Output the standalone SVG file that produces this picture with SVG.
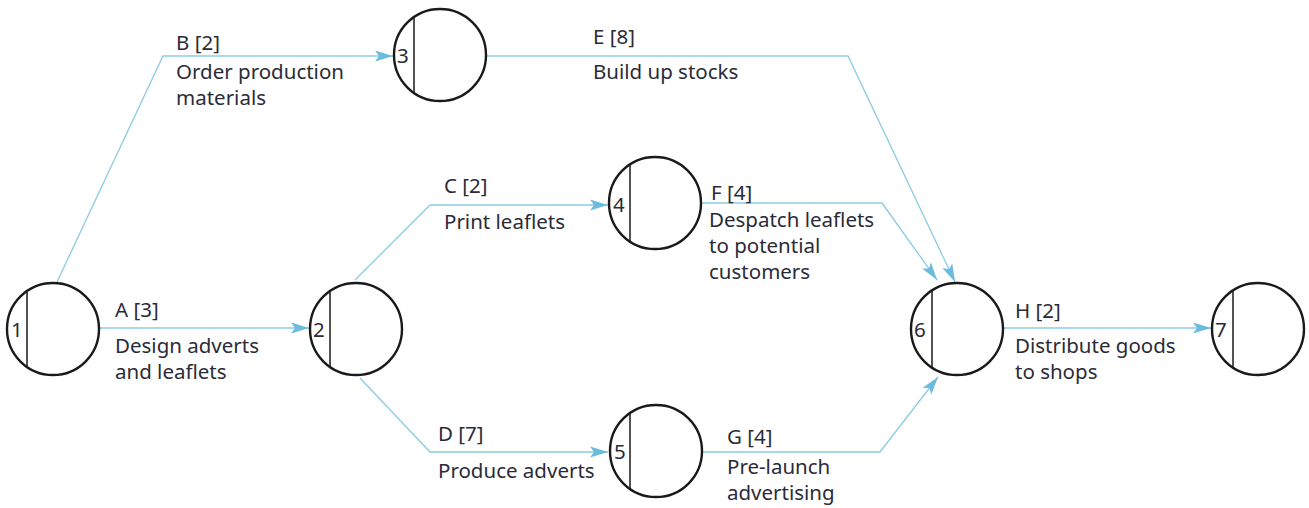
<svg xmlns="http://www.w3.org/2000/svg" width="1309" height="508" viewBox="0 0 1309 508">
<style>
.n{fill:#fff;stroke:#1a1a1a;stroke-width:2.4}
.d{stroke:#1a1a1a;stroke-width:1.5}
.c{fill:none;stroke:#8ccbe4;stroke-width:1.3}
text{font-family:"Noto Sans","Open Sans",sans-serif;font-size:20.5px;fill:#2b2b38}
</style>
<defs>
<marker id="ah" markerUnits="userSpaceOnUse" markerWidth="20" markerHeight="12" refX="18" refY="6" orient="auto">
<path d="M0,0.5 L18,6 L0,11.5 L4,6 Z" fill="#6bbcdc"/>
</marker>
</defs>
<rect width="1309" height="508" fill="#fff"/>
<g id="connectors">
<polyline class="c" points="57,282 163,56 393,56" marker-end="url(#ah)"/>
<polyline class="c" points="487,56 848,56 955,282" marker-end="url(#ah)"/>
<line class="c" x1="100" y1="328" x2="309" y2="328" marker-end="url(#ah)"/>
<polyline class="c" points="355,280 430,205 608,205" marker-end="url(#ah)"/>
<polyline class="c" points="702,203 882,203 937,280" marker-end="url(#ah)"/>
<polyline class="c" points="360,378 430,452 608,452" marker-end="url(#ah)"/>
<polyline class="c" points="703,452 880,452 938,377" marker-end="url(#ah)"/>
<line class="c" x1="1004" y1="328" x2="1211" y2="328" marker-end="url(#ah)"/>
</g>
<g id="labels">
<text x="176" y="50">B [2]</text>
<text x="176" y="79">Order production<tspan x="176" dy="26">materials</tspan></text>
<text x="593" y="44">E [8]</text>
<text x="593" y="79">Build up stocks</text>
<text x="115" y="317">A [3]</text>
<text x="115" y="353">Design adverts<tspan x="115" dy="26">and leaflets</tspan></text>
<text x="444" y="193">C [2]</text>
<text x="444" y="229">Print leaflets</text>
<text x="711" y="200">F [4]</text>
<text x="709" y="227">Despatch leaflets<tspan x="709" dy="26">to potential</tspan><tspan x="709" dy="26">customers</tspan></text>
<text x="438" y="441">D [7]</text>
<text x="438" y="478">Produce adverts</text>
<text x="727" y="444">G [4]</text>
<text x="727" y="474">Pre-launch<tspan x="727" dy="26">advertising</tspan></text>
<text x="1015" y="318">H [2]</text>
<text x="1015" y="353">Distribute goods<tspan x="1015" dy="26">to shops</tspan></text>
</g>
<g id="node1"><circle class="n" cx="53" cy="329" r="46"/><line class="d" x1="27" y1="291" x2="27" y2="367"/><text x="11" y="337">1</text></g>
<g id="node2"><circle class="n" cx="356" cy="329" r="46"/><line class="d" x1="330" y1="291" x2="330" y2="367"/><text x="313" y="337">2</text></g>
<g id="node3"><circle class="n" cx="440" cy="55" r="46"/><line class="d" x1="414" y1="17" x2="414" y2="93"/><text x="397" y="63">3</text></g>
<g id="node4"><circle class="n" cx="655" cy="203" r="46"/><line class="d" x1="630" y1="165" x2="630" y2="241"/><text x="613" y="212">4</text></g>
<g id="node5"><circle class="n" cx="656" cy="451" r="46"/><line class="d" x1="630" y1="413" x2="630" y2="489"/><text x="614" y="459">5</text></g>
<g id="node6"><circle class="n" cx="957" cy="329" r="46"/><line class="d" x1="932" y1="291" x2="932" y2="367"/><text x="914" y="337">6</text></g>
<g id="node7"><circle class="n" cx="1258" cy="329" r="46"/><line class="d" x1="1233" y1="291" x2="1233" y2="367"/><text x="1215" y="337">7</text></g>
</svg>
